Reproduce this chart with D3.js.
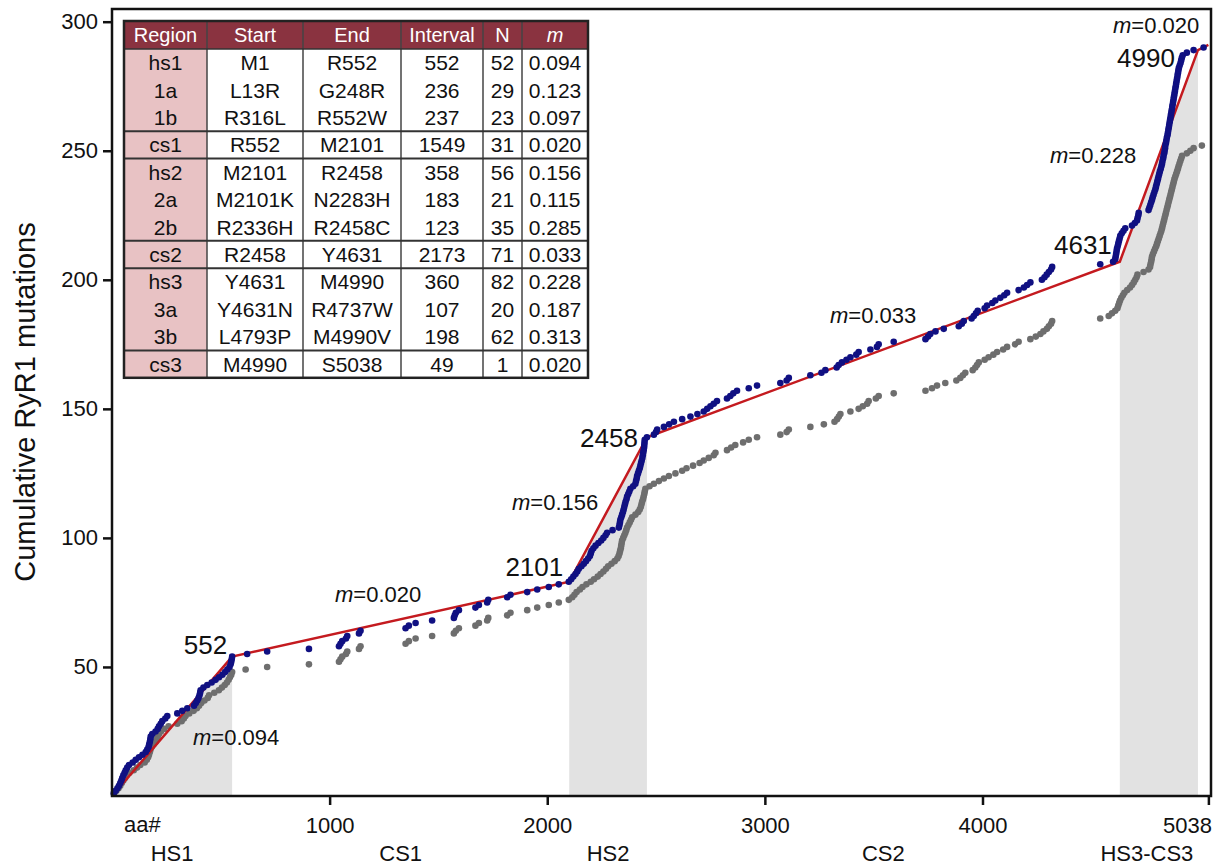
<!DOCTYPE html>
<html>
<head>
<meta charset="utf-8">
<script src="https://cdn.jsdelivr.net/npm/d3@7/dist/d3.min.js"></script>
<style>
  body { margin: 0; background: #fff; }
  svg text { font-family: "Liberation Sans", Arial, sans-serif; fill: #111; }
</style>
</head>
<body>
<div id="chart"></div>
<script>
// mutation positions (aa#), sorted; y = cumulative count
const blueAa = [8,17,25,32,38,43,47,52,58,63,70,78,95,109,124,140,155,162,168,171,174,176,178,185,200,210,216,224,231,245,254,300,323,346,377,385,392,398,402,405,407,420,438,458,476,492,507,520,530,540,545,548,550,552,621,713,905,1043,1050,1058,1075,1081,1135,1142,1349,1364,1395,1471,1571,1575,1580,1594,1670,1686,1724,1729,1816,1831,1908,1954,2007,2053,2099,
  2110,2120,2130,2138,2145,2157,2168,2178,2188,2196,2200,2204,2212,2222,2235,2248,2258,2268,2275,2300,2329,2332,2334,2336,2340,2344,2348,2351,2354,2357,2360,2364,2367,2372,2377,2382,2395,2405,2408,2411,2413,2417,2421,2425,2428,2431,2434,2437,2439,2441,2443,2445,2446,2447,2448,2458,
  2490,2500,2505,2536,2560,2582,2620,2658,2690,2719,2735,2750,2765,2780,2826,2841,2855,2872,2926,2964,3071,3100,3110,3209,3260,3278,3330,3339,3354,3375,3393,3420,3431,3485,3515,3523,3592,3738,3750,3760,3784,3822,3891,3905,3914,3950,3960,3970,3978,4010,4021,4045,4059,4082,4100,4113,4166,4190,4205,4220,4273,4285,4295,4305,4315,4320,4541,4600,4610,
  4612,4614,4616,4618,4621,4624,4627,4630,4633,4640,4648,4656,4687,4700,4710,4713,4716,4718,4763,4767,4771,4775,4779,4782,4786,4790,4794,4797,4800,4803,4806,4809,4812,4815,4819,4822,4825,4827,4830,4832,4835,4837,4839,4840,4843,4845,4847,4850,4852,4854,4856,4858,4860,4862,4864,4866,4868,4870,4872,4874,4876,4878,4880,4882,4884,4886,4888,4890,4892,4894,4896,4898,4900,4902,4906,4910,4913,4916,4920,4939,4970,5016];

const grayAa = [10,20,30,38,45,52,60,68,80,100,115,130,150,160,166,170,174,177,182,190,200,205,210,216,225,240,260,300,320,330,338,355,375,390,400,410,425,440,446,470,491,505,518,528,536,542,548,552,
  614,713,905,1043,1050,1058,1075,1081,1135,1142,1349,1364,1395,1471,1571,1580,1594,1670,1686,1724,1729,1816,1831,1908,1954,2007,2053,2099,
  2115,2125,2135,2150,2162,2180,2200,2215,2232,2245,2258,2270,2280,2295,2310,2322,2328,2332,2335,2338,2340,2342,2344,2349,2354,2359,2363,2367,2373,2379,2385,2390,2405,2418,2425,2430,2433,2436,2440,2443,2446,2448,2451,
  2470,2490,2513,2536,2559,2589,2620,2640,2670,2700,2719,2742,2765,2773,2826,2845,2864,2900,2926,2964,3071,3100,3110,3209,3271,3320,3332,3340,3347,3393,3431,3450,3470,3477,3510,3523,3592,3738,3768,3791,3829,3880,3898,3910,3921,3955,3967,3975,3983,4010,4028,4050,4067,4095,4113,4150,4166,4220,4245,4266,4280,4296,4305,4315,4320,
  4541,4580,4595,4610,4620,4624,4628,4632,4638,4645,4652,4665,4678,4687,4695,4702,4708,4712,4740,4763,4770,4772,4775,4777,4779,4783,4788,4793,4798,4802,4806,4810,4814,4818,4822,4825,4828,4831,4834,4837,4840,4843,4846,4849,4852,4855,4858,4861,4864,4867,4870,4873,4876,4879,4882,4886,4890,4894,4898,4901,4905,4909,4913,4917,4939,4955,4970,5008];

// piecewise fit (red line)
const fitAa = [0, 552, 2101, 2458, 4631, 4990, 5038];
const fitCount = [0, 54, 83, 139, 207, 289, 291];
const fitSlopes = ['0.094', '0.020', '0.156', '0.033', '0.228', '0.020'];

const regionNames = ['HS1', 'CS1', 'HS2', 'CS2', 'HS3-CS3'];
const regionStart = [0, 552, 2101, 2458, 4631];
const regionEnd = [552, 2101, 2458, 4631, 4990];
const hotIdx = [0, 2, 4];

const xTicks = [1000, 2000, 3000, 4000, 5038];
const yTicks = [50, 100, 150, 200, 250, 300];

// table
const tHeaders = ['Region', 'Start', 'End', 'Interval', 'N', 'm'];
const tRegion = ['hs1', '1a', '1b', 'cs1', 'hs2', '2a', '2b', 'cs2', 'hs3', '3a', '3b', 'cs3'];
const tStart = ['M1', 'L13R', 'R316L', 'R552', 'M2101', 'M2101K', 'R2336H', 'R2458', 'Y4631', 'Y4631N', 'L4793P', 'M4990'];
const tEnd = ['R552', 'G248R', 'R552W', 'M2101', 'R2458', 'N2283H', 'R2458C', 'Y4631', 'M4990', 'R4737W', 'M4990V', 'S5038'];
const tInterval = [552, 236, 237, 1549, 358, 183, 123, 2173, 360, 107, 198, 49];
const tN = [52, 29, 23, 31, 56, 21, 35, 71, 82, 20, 62, 1];
const tM = ['0.094', '0.123', '0.097', '0.020', '0.156', '0.115', '0.285', '0.033', '0.228', '0.187', '0.313', '0.020'];
const tGroupEnds = [2, 3, 6, 7, 10];

const W = 1219, H = 866;
const svg = d3.select('#chart').append('svg').attr('width', W).attr('height', H);

const x = d3.scaleLinear().domain([0, 5050]).range([112, 1211]);
const y = d3.scaleLinear().domain([0, 300]).range([796, 21.7]);
const frameTop = 9, frameRight = 1211;

// shaded hot spots = area under the fit line
const fitPts = fitAa.map((a, i) => [a, fitCount[i]]);
const area = d3.area().x(d => x(d[0])).y0(y(0)).y1(d => y(d[1]));
hotIdx.forEach(i => {
  const pts = fitPts.filter(p => p[0] >= regionStart[i] && p[0] <= regionEnd[i]);
  svg.append('path').datum(pts).attr('d', area).attr('fill', '#e2e2e2');
});

// gray series
svg.append('g').selectAll('circle').data(grayAa).join('circle')
  .attr('cx', d => x(d)).attr('cy', (d, i) => y(i + 1)).attr('r', 3.3)
  .attr('fill', '#6e6e6e');

// red fit line
svg.append('path').datum(fitPts)
  .attr('d', d3.line().x(d => x(d[0])).y(d => y(d[1])))
  .attr('fill', 'none').attr('stroke', '#c41a1f').attr('stroke-width', 2.5);

// blue series
svg.append('g').selectAll('circle').data(blueAa).join('circle')
  .attr('cx', d => x(d)).attr('cy', (d, i) => y(i + 1)).attr('r', 3.3)
  .attr('fill', '#101082');

// frame
svg.append('rect').attr('x', x(0)).attr('y', frameTop)
  .attr('width', frameRight - x(0)).attr('height', y(0) - frameTop)
  .attr('fill', 'none').attr('stroke', '#111').attr('stroke-width', 2.5);

// axes
const yAxis = svg.append('g').attr('transform', `translate(${x(0)},0)`)
  .call(d3.axisLeft(y).tickValues(yTicks).tickSize(9).tickPadding(5));
const xAxis = svg.append('g').attr('transform', `translate(0,${y(0)})`)
  .call(d3.axisBottom(x).tickValues(xTicks).tickFormat(d3.format('d')).tickSize(9).tickPadding(12));
[yAxis, xAxis].forEach(g => {
  g.select('.domain').remove();
  g.selectAll('line').attr('stroke', '#111').attr('stroke-width', 2.5);
  g.selectAll('text').attr('font-size', 22).attr('fill', '#111');
});
xAxis.selectAll('.tick').filter(d => d === 5038).select('text').attr('text-anchor', 'end').attr('dx', 3);

svg.append('text').attr('x', 124).attr('y', 832).attr('font-size', 22).text('aa#');
svg.append('g').selectAll('text').data(regionNames).join('text')
  .attr('x', (d, i) => x((regionStart[i] + regionEnd[i]) / 2) - (i === 4 ? 12 : 0))
  .attr('y', 861).attr('text-anchor', 'middle').attr('font-size', 22).text(d => d);

svg.append('text')
  .attr('transform', `translate(35,402) rotate(-90)`)
  .attr('text-anchor', 'middle').attr('font-size', 29)
  .text('Cumulative RyR1 mutations');

// vertex labels
const vertexOffsets = [[-5, -3], [-6, -6], [-9, 10], [-8, -8], [-23, 17]];
fitAa.slice(1, 6).forEach((a, i) => {
  svg.append('text')
    .attr('x', x(a) + vertexOffsets[i][0]).attr('y', y(fitCount[i + 1]) + vertexOffsets[i][1])
    .attr('text-anchor', 'end').attr('font-size', 26).text(a);
});

// slope labels
const slopeAt = [[193, 745], [335, 602], [512, 510], [830, 323], [1050, 163], [1113, 33]];
fitSlopes.forEach((m, i) => {
  const t = svg.append('text').attr('x', slopeAt[i][0]).attr('y', slopeAt[i][1]).attr('font-size', 22);
  t.append('tspan').attr('font-style', 'italic').text('m');
  t.append('tspan').text('=' + m);
});

// table
const tx = 124, ty = 21, headH = 28, rowH = 27.4;
const colEdges = [124, 207, 303, 401, 483, 522, 588];
const tb = svg.append('g');
const tBottom = ty + headH + rowH * tRegion.length;
tb.append('rect').attr('x', tx).attr('y', ty).attr('width', colEdges[6] - tx).attr('height', tBottom - ty).attr('fill', '#fff');
tb.append('rect').attr('x', tx).attr('y', ty).attr('width', colEdges[6] - tx).attr('height', headH).attr('fill', '#8a3340');
tb.append('rect').attr('x', tx).attr('y', ty + headH).attr('width', colEdges[1] - tx).attr('height', tBottom - ty - headH).attr('fill', '#e8c2c4');

const cols = [tRegion, tStart, tEnd, tInterval, tN, tM];
tHeaders.forEach((h, c) => {
  const cx = (colEdges[c] + colEdges[c + 1]) / 2;
  tb.append('text').attr('x', cx).attr('y', ty + headH / 2 + 7).attr('text-anchor', 'middle')
    .attr('font-size', 20).attr('font-style', h === 'm' ? 'italic' : 'normal')
    .style('fill', '#fff').text(h);
  cols[c].forEach((v, r) => {
    tb.append('text').attr('x', cx).attr('y', ty + headH + rowH * r + rowH / 2 + 7.5)
      .attr('text-anchor', 'middle').attr('font-size', 21).text(v);
  });
});
colEdges.slice(1, 6).forEach(e => {
  tb.append('line').attr('x1', e).attr('x2', e).attr('y1', ty).attr('y2', tBottom)
    .attr('stroke', '#444').attr('stroke-width', 1.5);
});
tGroupEnds.forEach(r => {
  const yy = ty + headH + rowH * (r + 1);
  tb.append('line').attr('x1', tx).attr('x2', colEdges[6]).attr('y1', yy).attr('y2', yy)
    .attr('stroke', '#333').attr('stroke-width', 2);
});
tb.append('line').attr('x1', tx).attr('x2', colEdges[6]).attr('y1', ty + headH).attr('y2', ty + headH)
  .attr('stroke', '#333').attr('stroke-width', 1.5);
tb.append('rect').attr('x', tx).attr('y', ty).attr('width', colEdges[6] - tx).attr('height', tBottom - ty)
  .attr('fill', 'none').attr('stroke', '#222').attr('stroke-width', 2.5);
</script>
</body>
</html>
